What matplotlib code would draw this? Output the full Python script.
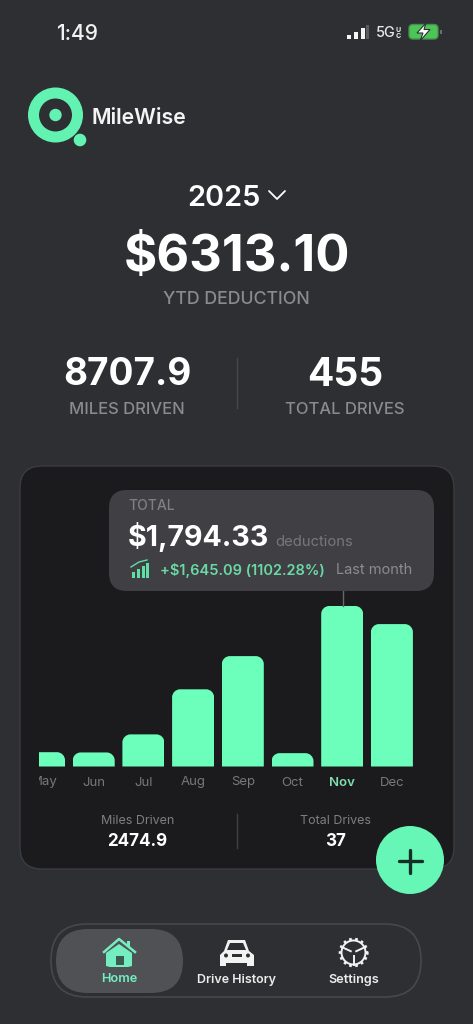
import matplotlib
matplotlib.use("Agg")
import numpy as np
import matplotlib.pyplot as plt
from matplotlib.patches import FancyBboxPatch, Circle, Polygon, Rectangle
from matplotlib.path import Path
from matplotlib.transforms import Bbox

plt.rcParams['font.family'] = ['Inter', 'DejaVu Sans']

months = ['May', 'Jun', 'Jul', 'Aug', 'Sep', 'Oct', 'Nov', 'Dec']
deductions = [160, 157, 359, 863, 1234, 149.24, 1794.33, 1592]
selected_month = 'Nov'

BG = '#2e2f33'; CARD = '#1b1b1d'; TIP = '#403f44'; MINT = '#6cffbb'; LOGO = '#62f2b2'
GREY = '#8a8b8e'; WHITE = '#ffffff'

W, H = 473, 1024
fig = plt.figure(figsize=(W/100, H/100), dpi=100, facecolor=BG)
ui = fig.add_axes([0, 0, 1, 1], zorder=1)
ui.set_xlim(0, W); ui.set_ylim(H, 0); ui.axis('off')
top = fig.add_axes([0, 0, 1, 1], zorder=3)
top.set_xlim(0, W); top.set_ylim(H, 0); top.axis('off'); top.patch.set_alpha(0)

def px(p): return p * 0.72

def rrect(ax, x0, y0, x1, y1, r, fc, ec='none', lw=0, z=2):
    ax.add_patch(FancyBboxPatch((x0, y0), x1-x0, y1-y0, boxstyle=f'round,pad=0,rounding_size={r}',
                                fc=fc, ec=ec, lw=lw, zorder=z))

def txt(ax, x, y, s, size, color=WHITE, weight='normal', ha='center', va='center'):
    return ax.text(x, y, s, fontsize=px(size), color=color, fontweight=weight, ha=ha, va=va, zorder=6)

# status bar
txt(ui, 77, 33.5, '1:49', 21, '#f2f2f2', 'medium')
for x, h, c in zip([346.5, 353.5, 360.5, 366], [4, 7, 11, 14], ['#f5f5f5']*3 + ['#5c5d60']):
    ui.add_patch(Rectangle((x, 38.5-h), 4.5 if x < 365 else 3, h, fc=c, ec='none'))
txt(ui, 376, 33, '5G', 14.5, '#e8e8e8', 'medium', ha='left')
txt(ui, 398, 29.5, 'U', 7, '#e8e8e8', 'bold')
txt(ui, 398, 36, 'C', 7, '#e8e8e8', 'bold')
rrect(ui, 409, 24.5, 438, 39, 4, '#4cc456', ec='#4a8c50', lw=1)
ui.add_patch(Rectangle((440, 30), 1.5, 4, fc='#6c6d70'))
ui.add_patch(Polygon([(426, 23), (417, 33), (423, 33), (420, 41), (430, 29.5), (424, 29.5)],
                     fc='#ffffff', ec=BG, lw=0.8, zorder=4))

# logo
ui.add_patch(Circle((55.5, 115), 22, fc='none', ec=LOGO, lw=px(11)))
ui.add_patch(Circle((55.5, 115), 6.2, fc=LOGO))
ui.add_patch(Circle((80, 140), 6.3, fc=LOGO))
txt(ui, 91, 118.5, 'MileWise', 21.3, '#f4f4f4', 'semibold', ha='left')

# headline
txt(ui, 224, 198, '2025', 29, WHITE, 'semibold')
ui.plot([269, 277, 285], [191, 199, 191], color=WHITE, lw=1.3, solid_capstyle='round')
txt(ui, 236.5, 257, '$6313.10', 50.7, WHITE, 'bold')
txt(ui, 236, 300, 'YTD DEDUCTION', 17.8, GREY, 'medium')
txt(ui, 127, 375, '8707.9', 37, WHITE, 'bold')
txt(ui, 127, 409.5, 'MILES DRIVEN', 16.6, GREY, 'medium')
txt(ui, 345, 375, '455', 39, WHITE, 'bold')
txt(ui, 345, 409.5, 'TOTAL DRIVES', 16.6, GREY, 'medium')
ui.plot([237, 237], [358, 408], color='#47484c', lw=1)

# card
rrect(ui, 20, 466, 454, 869, 22, CARD, ec='#3b3c40', lw=1)

# chart
L, R, T, B = 39, 420, 590, 766.5
ax = fig.add_axes([L/W, 1-B/H, (R-L)/W, (B-T)/H], zorder=2)
ax.patch.set_alpha(0)
pos = np.arange(len(months))
step = 49.7
ax.set_xlim(-5/step, (R-L-5)/step)
ymax = 1794.33 * (B-T) / 160.5
ax.set_ylim(0, ymax)
bw = 42/step
bars = ax.bar(pos, deductions, width=bw, color=MINT, linewidth=0, zorder=2)
rx = 8/step; ry = 8 * ymax/(B-T)
k = 0.45
for b, v, xc in zip(bars, deductions, pos):
    x0, x1 = xc-bw/2, xc+bw/2
    verts = [(x0, 0), (x0, v-ry), (x0, v-ry*k), (x0+rx*k, v), (x0+rx, v), (x1-rx, v), (x1-rx*k, v),
             (x1, v-ry*k), (x1, v-ry), (x1, 0), (x0, 0)]
    codes = [Path.MOVETO, Path.LINETO, Path.CURVE4, Path.CURVE4, Path.CURVE4, Path.LINETO, Path.CURVE4,
             Path.CURVE4, Path.CURVE4, Path.LINETO, Path.CLOSEPOLY]
    b.set_clip_path(Path(verts, codes), ax.transData)
for s in ax.spines.values():
    s.set_visible(False)
ax.set_yticks([])
ax.set_xticks(pos, months)
ax.tick_params(axis='x', length=0, pad=7.2, labelsize=px(13.2), labelcolor='#77787a')
fig.canvas.draw()
for lab, m in zip(ax.get_xticklabels(), months):
    lab.set_clip_box(Bbox([[L, 0], [W, H]]))
    lab.set_clip_on(True)
    if m == selected_month:
        lab.set_color('#7fe0b0'); lab.set_fontweight('semibold')

# tooltip
top.plot([342.5, 342.5], [590, 606], color='#67686b', lw=1, zorder=1)
rrect(top, 109, 490, 434, 591, 18, TIP)
txt(top, 128, 505.5, 'TOTAL', 14, '#7f8083', 'medium', ha='left')
txt(top, 128, 536.5, '$1,794.33', 28.6, WHITE, 'bold', ha='left')
txt(top, 275, 541.5, 'deductions', 14.8, '#77787b', ha='left')
for x, h in zip([131.5, 136.5, 141.5, 146], [6, 9, 12, 15]):
    top.add_patch(Rectangle((x, 578-h), 3.4, h, fc='#5fe0a5', zorder=5))
top.plot([131, 139, 147], [567, 562, 560], color='#5fe0a5', lw=1, zorder=5)
txt(top, 160, 570, '+$1,645.09 (1102.28%)', 14.6, '#6ad9a6', 'semibold', ha='left')
txt(top, 336, 570, 'Last month', 14.6, '#8b8c8f', ha='left')

# card footer
txt(ui, 137.5, 820.5, 'Miles Driven', 12.5, '#7d7e80')
txt(ui, 137, 841, '2474.9', 17, WHITE, 'bold')
txt(ui, 335.5, 820.5, 'Total Drives', 12.5, '#7d7e80')
txt(ui, 335.5, 841, '37', 17, WHITE, 'bold')
ui.plot([237, 237], [814, 848], color='#3f4043', lw=1)

# add button
top.add_patch(Circle((410, 860), 34, fc='#66f7b6', zorder=4))
top.plot([398.5, 421.5], [861, 861], color='#123026', lw=2.4, zorder=5, solid_capstyle='round')
top.plot([410, 410], [849.5, 872.5], color='#123026', lw=2.4, zorder=5, solid_capstyle='round')

# nav bar
rrect(ui, 51, 924, 421, 997, 36, '#2e2f33', ec='#47484c', lw=1.2)
rrect(ui, 56, 929, 183, 993, 32, '#505155')
HOME = '#74eec0'
ui.add_patch(Polygon([(106, 953), (119, 944), (132, 953), (132, 966), (128, 967), (110, 967), (106, 966)],
                     fc=HOME, zorder=4))
ui.add_patch(Rectangle((115.5, 955.5), 8, 9, fc='#3d5a50', zorder=5))
ui.plot([104, 119, 135], [952, 939, 952], color=HOME, lw=1.8, zorder=4)
ui.add_patch(Rectangle((127, 941), 3, 6, fc=HOME, zorder=4))
txt(ui, 119.5, 979.5, 'Home', 12.8, HOME, 'semibold')

# car
ui.add_patch(Polygon([(224, 951), (228, 940), (245, 940), (249, 951), (254, 955), (254, 966), (247, 966),
                      (247, 963), (226, 963), (226, 966), (220, 966), (220, 955)], fc='#f2f2f2', zorder=4))
ui.add_patch(Polygon([(227, 950), (230, 943), (243, 943), (246, 950)], fc='#2e2f33', zorder=5))
ui.add_patch(Circle((226, 955.5), 2, fc=BG, zorder=5))
ui.add_patch(Circle((248, 955.5), 2, fc=BG, zorder=5))
ui.add_patch(Rectangle((231.5, 954), 10, 3, fc=BG, zorder=5))
txt(ui, 236, 979.5, 'Drive History', 12.5, '#ececec', 'semibold')

# gear
cx, cy = 353.5, 952.5
ui.add_patch(Circle((cx, cy), 12, fc='none', ec='#f2f2f2', lw=1.4, zorder=4))
for a in np.deg2rad(np.arange(0, 360, 25.7)):
    ui.plot([cx+12*np.cos(a), cx+14.8*np.cos(a)], [cy+12*np.sin(a), cy+14.8*np.sin(a)],
            color='#f2f2f2', lw=1.9, zorder=4, solid_capstyle='butt')
for a in np.deg2rad([-155, -25, 90]):
    ui.plot([cx+3*np.cos(a), cx+12*np.cos(a)], [cy+3*np.sin(a), cy+12*np.sin(a)],
            color='#f2f2f2', lw=1.4, zorder=4)
txt(ui, 354, 979.5, 'Settings', 12.7, '#ececec', 'semibold')

fig.savefig('out.png', dpi=100, facecolor=BG)
